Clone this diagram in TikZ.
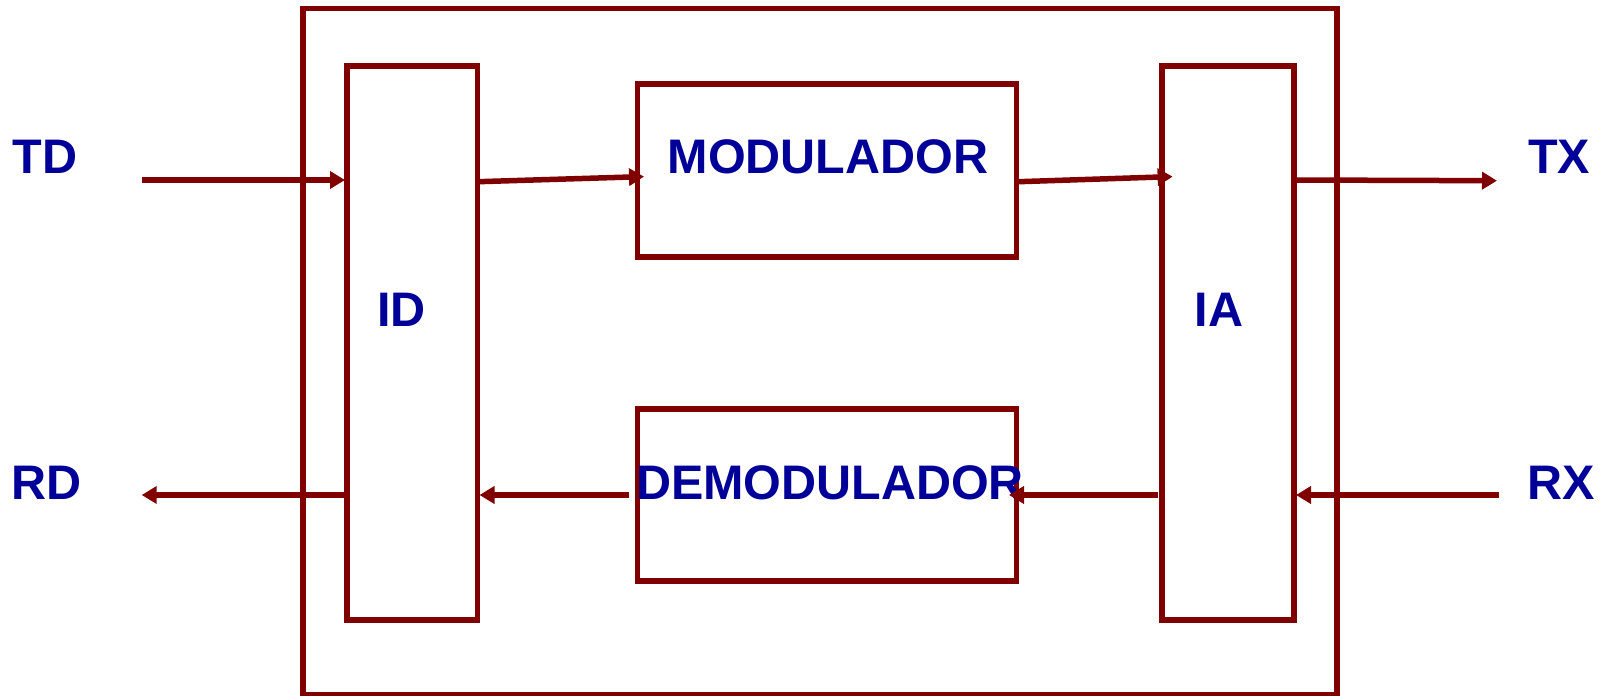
\documentclass[tikz,border=0pt]{standalone}
\usepackage{fontspec}
\setmainfont{Liberation Sans}
\usetikzlibrary{arrows.meta}
\definecolor{boxred}{RGB}{128,0,0}
\definecolor{txtblue}{RGB}{0,0,153}
\begin{document}
\begin{tikzpicture}[x=1pt,y=-1pt,
  blk/.style={draw=boxred, line width=5.5pt, rectangle, inner sep=0pt},
  lbl/.style={text=txtblue, font=\fontsize{48.5}{48.5}\selectfont\bfseries, inner sep=0pt},
  conn/.style={draw=boxred, line width=5.5pt, -{Triangle[length=15pt,width=17pt]}}]
\useasboundingbox (0,0) rectangle (1610,696);
% boxes
\node[blk, minimum width=1034pt, minimum height=686pt] (outer) at (820,351.5) {};
\node[blk, minimum width=130.5pt, minimum height=554pt] (id) at (412.25,343) {};
\node[blk, minimum width=132pt, minimum height=554pt] (ia) at (1228,343) {};
\node[blk, minimum width=379pt, minimum height=172.7pt] (mod) at (827,170.4) {};
\node[blk, minimum width=379pt, minimum height=172.3pt] (demod) at (827,495) {};
% labels
\node[lbl] (tdl) at (45,157) {TD};
\node[lbl] (rdl) at (47,483) {RD};
\node[lbl] (txl) at (1559,157) {TX};
\node[lbl] (rxl) at (1561,483) {RX};
\node[lbl] (idl) at (401.5,310) {ID};
\node[lbl] (ial) at (1219,310) {IA};
\node[lbl] (modl) at (828,157) {MODULADOR};
\node[lbl] (demodl) at (830,482.6) {DEMODULADOR};
% connector ends
\coordinate (tdin) at (142,180);
\coordinate (idtd) at (345,180);
\coordinate (idmo) at (478,181.7);
\coordinate (modin) at (644,176.6);
\coordinate (modout) at (1018.6,181.7);
\coordinate (iain) at (1172.6,176.6);
\coordinate (iatx) at (1296,180);
\coordinate (txout) at (1497,180.7);
\coordinate (rxin) at (1499,495);
\coordinate (iarx) at (1296,495);
\coordinate (iadem) at (1158,495);
\coordinate (demin) at (1009,495);
\coordinate (demout) at (629.4,495);
\coordinate (idin) at (479.5,495);
\coordinate (idrd) at (345,495);
\coordinate (rdout) at (141.7,495);
% connectors
\draw[conn] (tdin) -- (idtd);
\draw[conn] (idmo) -- (modin);
\draw[conn] (modout) -- (iain);
\draw[conn] (iatx) -- (txout);
\draw[conn] (rxin) -- (iarx);
\draw[conn] (iadem) -- (demin);
\draw[conn] (demout) -- (idin);
\draw[conn] (idrd) -- (rdout);
\end{tikzpicture}
\end{document}
